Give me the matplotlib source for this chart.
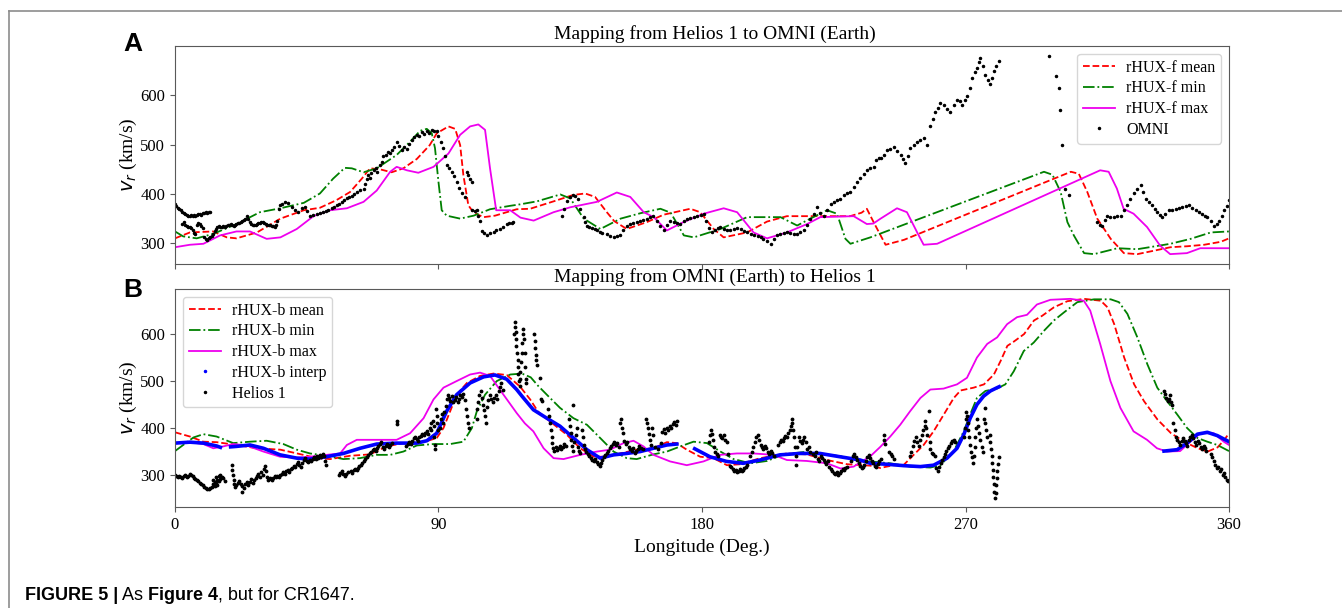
import numpy as np
import matplotlib
matplotlib.use('Agg')
import matplotlib.pyplot as plt
from matplotlib.lines import Line2D
from matplotlib.text import Annotation

plt.rcParams['font.family'] = 'Liberation Serif'

# ---- panel A: Helios 1 -> OMNI (lon, v_r) ----
mean_f = [(0,310),(5.1,322),(13,324),(17.7,312),(21,310),(28,322),(36,350),(44,367),(49.5,372),(55,387),
          (59.8,404),(63.8,431),(66.6,452),(70,450),(74,444),(78,452),(82.6,471),(87,499),(89.4,523),(93.4,537),
          (95.7,532),(97.4,499),(98.5,438),(100.2,377),(102,362),(105.4,353),(109.3,356),(116.7,369),(121.3,370),
          (129.3,385),(136,398),(140.1,401),(143.5,394),(147.5,363),(150,345),(154.3,329),(161.2,343),(166.9,358),
          (176,370),(179.4,363),(184,329),(187.4,312),(195.4,322),(202.2,344),(209,355),(220.4,355),(230.6,355),
          (234.5,362),(236.3,370),(238.6,343),(241,316),(242.7,297),(249,307),(306,445),(308.7,441),(311.6,404),
          (315,350),(319.6,309),(324.1,280),(328.7,278),(334.4,285),(340,292),(345.8,294),(351.5,297),(357.2,303),
          (360,310)]
min_f = [(0,324),(2.8,314),(7.4,310),(13,319),(21,339),(29,363),(36,371),(44,382),(49.5,401),(54,431),(58,453),
         (60.4,452),(64.4,444),(68.9,452),(75.7,479),(80.3,506),(83.7,528),(86,532),(87.7,523),(88.8,493),(90,424),
         (91.1,367),(92.8,356),(97.4,350),(102,356),(107.6,369),(114.5,376),(117.9,379),(123.6,385),(131.6,399),
         (135,391),(139.6,350),(145.3,329),(152.2,350),(159,361),(165.8,370),(169.3,362),(173.8,316),(177.2,312),
         (186.3,329),(195.4,353),(206.8,353),(212.5,336),(217,350),(222.7,367),(226.1,360),(229,309),(230.7,299),
         (237.5,312),(296.8,445),(299.7,439),(302.5,404),(304.8,343),(307,316),(310.5,280),(313.9,278),(321.9,290),
         (328.7,288),(340,299),(346.9,309),(353.8,322),(360,324)]
max_f = [(0,292),(5.1,297),(9.7,299),(15.4,316),(21,324),(25.6,324),(31.3,309),(36,312),(41.6,329),(47.3,355),
         (53,367),(58.7,371),(64.4,384),(68.9,407),(73.5,445),(75.7,455),(79.2,448),(83.1,443),(88.3,455),
         (93.4,482),(97.4,520),(100.8,537),(103.6,541),(105.9,530),(107.6,452),(109.7,367),(114.5,367),(118,352),
         (122.5,346),(129.3,363),(135,373),(144.1,384),(150.9,403),(155.5,394),(160.1,363),(163.5,353),(168,326),
         (173.7,343),(180.6,360),(187.4,371),(192,363),(197.6,322),(202.2,310),(209,322),(215.9,339),(220.4,353),
         (231.8,355),(236.3,339),(238.5,340),(241,350),(246.6,371),(250,363),(253.5,322),(255.7,297),(260.3,299),
         (316,448),(318.9,445),(321.7,411),(324,370),(327.4,360),(332,333),(336.5,295),(339.9,278),(345.6,280),
         (350.2,290),(360,290)]
omni = [(0,380),(0.5,376),(1,372),(1.5,369),(2,367),(2.5,364),(3,362),(3.5,360),(4,357),(4.5,356),(5,355),
        (5.5,357),(6,355),(6.5,358),(7,356),(7.5,358),(8,359),(8.5,360),(9,358),(9.5,361),(10,362),(10.5,363),
        (11,362),(11.5,364),(12,363),
        (2.5,340),(3,343),(3.5,338),(4,336),(4.5,334),(5,333),(5.5,330),(6,326),(6.5,320),(7,318),(7.5,338),
        (8,342),(8.5,340),(9,336),(9.5,332),(10,312),(10.5,309),(11,307),(11.5,310),(12,312),(12.5,315),(13,318),
        (13.5,325),(14,329),(14.5,333),(15,336),(15.5,334),(16,333),(16.5,335),(17,333),(17.5,336),(18,337),
        (18.5,338),(19,339),(19.5,337),(20,336),(20.5,338),(21,339),(21.5,341),(22,342),(22.5,344),(23,346),
        (23.5,348),(24,350),(24.5,356),(25,350),(25.5,344),(26,340),(26.5,338),(27,338),(27.5,337),(28,339),
        (28.5,341),(29,342),(29.5,344),(30,343),(30.5,341),(31,340),(31.5,338),(32,338),(32.5,337),(33,336),
        (33.5,335),(34,334),(34.5,338),(35,345),(35.5,370),(35.9,377),(36.7,380),(37.6,383),(38.7,381),(39.9,374),
        (41,367),(42.1,364),(43.3,371),(44.4,374),(45.2,365),(46.1,356),(47.2,358),(48.4,360),(49.5,362),
        (50.7,363),(51.6,365),(52.4,367),(53.6,371),(54.4,374),(55.2,377),(56,380),(56.9,384),(57.8,388),
        (58.7,391),(59.5,393),(60.4,396),(61.2,400),(62.1,404),(63.2,408),(64.4,411),(65,420),(65.5,430),(66,438),
        (66.5,433),(67,442),(67.8,448),(68.5,452),(69,445),(70,458),(70.6,465),(71.2,476),(72,480),(72.9,486),
        (73.5,484),(74,489),(74.8,495),(75.7,506),(76.5,498),(77.4,489),(78.2,495),(79.2,492),(80,502),(80.9,510),
        (81.8,515),(82.6,520),(83.4,518),(84.3,525),(85,522),(86,527),(86.8,524),(87.7,530),(88.5,528),(89.4,527),
        (90,518),(90.8,505),(91.6,493),(92.2,478),(92.8,459),(93.6,452),(94.5,445),(95.3,436),(96.2,424),(97,412),
        (98,401),(99,394),(99.7,445),(100.2,438),(100.8,430),(101.4,424),(101.6,367),(102.3,365),(103,367),
        (103.6,356),(104.2,346),(104.8,324),(105.5,320),(106.5,317),(107.5,320),(108.8,322),(109.8,326),(111,329),
        (112,333),(113.3,339),(114.2,342),(115,341),(115.6,344),
        (132.1,356),(133,370),(134,385),(135,394),(135.8,398),(136.7,396),(137.5,390),(138.5,370),(139.6,353),
        (140.2,344),(140.7,336),(141.5,334),(142.5,330),(143.3,328),(144.1,326),(145,322),(146,320),(147.5,319),
        (148.5,315),(149.8,312),(150.8,315),(152,317),(153,326),(154.3,336),(155.5,340),(156.5,341),(157.7,343),
        (158.8,346),(160,348),(161.2,350),(162.3,353),(163.4,356),(164.5,345),(165.5,335),(166.9,326),(168,338),
        (169.2,346),(170.5,343),(171.5,341),(172.6,339),(173.7,346),(174.9,350),(176,352),(177.2,354),(178.3,356),
        (179.5,358),(180.6,360),(181.5,345),(182.5,330),(183.5,322),(184.5,326),(185.5,330),(186.3,333),
        (187.5,329),(188.5,327),(189.7,326),(191,328),(192,330),(193.2,329),(194.5,325),(195.5,322),(196.6,319),
        (197.8,316),(199,314),(200,312),(201,308),(202.2,304),(203.4,299),(204.5,308),(205.7,316),(206.8,318),
        (208,320),(209,322),(210.2,320),(211.3,318),(212.5,319),(213.6,322),(214.8,326),(215.9,338),(217,350),
        (218.2,360),(219.3,373),(220.4,362),(221.6,356),(222.7,368),(223.9,380),(225,384),(226.2,388),(227.3,390),
        (228.5,398),(229.5,402),(230.7,404),(231.8,414),(233,424),(234,432),(235.2,441),(236.2,448),(237.5,452),
        (238.7,455),(239.5,468),(240.4,472),(241,472),(242.2,480),(243.2,489),(244.3,492),(245.5,496),(246.6,488),
        (247.8,479),(248.7,470),(249.5,462),(250.3,478),(251.2,493),(252.3,500),(253.5,506),(254.6,510),
        (255.7,513),(256.9,499),(258,537),(258.8,552),(259.6,567),(260.5,575),(261.4,584),(262.5,580),(263.6,572),
        (264.8,567),(266,580),(267.1,591),(268,588),(268.8,581),(269.7,590),(270.5,598),(271.4,615),(272.3,635),
        (273.1,648),(274,656),(274.5,668),(275.1,676),(276,660),(276.8,642),(277.6,632),(278.5,622),(279,636),
        (279.6,649),(280.4,660),(281.3,669),
        (298.4,680),(301,639),(301.8,615),(302.4,571),(302.8,499),(304.1,411),(305.3,397),
        (315,343),(315.8,338),(316.7,336),(317.5,348),(318.4,356),(319.5,354),(320.7,353),(321.8,355),(323,356),
        (324,368),(325.2,377),(326.3,390),(327.5,401),(328.7,410),(329.8,418),(330.6,405),(331.5,390),(332.6,384),
        (333.8,377),(334.6,370),(335.5,363),(336.4,358),(337.2,353),(338.3,360),(339.5,367),(340.6,368),
        (341.8,370),(343,372),(344,373),(345.2,375),(346.3,377),(347.5,372),(348.6,367),(349.7,364),(350.9,360),
        (351.8,356),(352.6,353),(353.8,345),(354.9,336),(355.8,340),(356.6,346),(357.5,356),(358.3,367),
        (359.2,376),(360,387)]

# ---- panel B: OMNI -> Helios 1 ----
mean_b = [(0,391),(5.1,382),(9.7,371),(14.2,370),(21,364),(28,357),(36,354),(43.8,343),(48.4,336),(53,334),
          (59.8,341),(66.6,344),(72.3,361),(78,368),(84.9,370),(89.4,379),(91.7,400),(94,436),(96.2,471),
          (99.7,496),(104.2,511),(108.8,516),(113.3,513),(117.9,488),(121.3,461),(124,435),(128.1,414),(133.8,386),
          (138.4,357),(143,339),(147.5,339),(152,346),(157.7,354),(163.4,357),(168,370),(171.3,368),(174.8,354),
          (179.4,339),(183.9,336),(188.5,321),(193,323),(199.9,336),(209,346),(215.8,344),(222.7,332),(229.6,323),
          (237.5,320),(240.9,315),(245.4,321),(248.8,321),(252.3,343),(255.7,364),(259.1,393),(262.6,429),
          (266,464),(268.3,480),(272.8,486),(276.3,493),(279.7,514),(282,543),(284.3,575),(286.5,584),(290,600),
          (293.4,629),(296.2,639),(300.2,657),(304.8,670),(310.5,675),(316.2,671),(318.5,657),(320.8,621),
          (324.2,550),(327.6,493),(331,457),(335.6,418),(340.2,389),(344.7,371),(349.3,357),(352.7,350),
          (356.1,359),(358.4,375),(360,389)]
min_b = [(0,351),(2.8,364),(6.3,380),(9.7,387),(14.2,382),(19.9,368),(25.6,371),(31.3,373),(37,366),(41.6,354),
         (46.1,346),(51.8,341),(57.5,334),(63.2,336),(68.9,343),(73.5,343),(78,350),(82.6,363),(88.3,366),(94,366),
         (98.5,371),(101.4,400),(103.1,436),(105.9,471),(109.9,500),(114.5,514),(118.5,516),(121.5,508),(124,490),
         (127,471),(131.5,443),(136.1,421),(140.7,407),(145.2,379),(149.8,350),(154.3,336),(157.7,334),(163.4,344),
         (168,350),(172.6,361),(177.1,371),(181.7,368),(186.3,350),(190.8,334),(196.5,325),(202.2,330),(207.9,344),
         (214.7,349),(222.7,344),(228.4,339),(234.1,332),(237.5,329),(244.3,325),(251.1,318),(258,316),(261.4,321),
         (265.9,350),(269.4,393),(271.6,429),(273.9,464),(276.8,479),(280.7,484),(283.6,493),(286.5,521),
         (289.9,564),(293.3,582),(296.8,607),(300.2,629),(303.6,646),(308.2,668),(313.9,674),(319.6,674),
         (322.4,668),(325.3,643),(328.7,593),(332.1,536),(335.5,486),(338.9,457),(342.3,429),(345.7,400),
         (349.2,379),(352.6,371),(356,364),(360,351)]
max_b = [(0,368),(5.1,370),(9.7,366),(13.1,357),(16.5,361),(19.9,366),(24.5,363),(30.2,350),(35.9,339),(41.6,337),
         (46.1,339),(51.8,343),(56.4,346),(58.7,364),(62.1,375),(68.9,375),(75.7,375),(80.3,389),(84.9,421),
         (88.3,461),(91.7,486),(96.2,500),(100.8,514),(104.2,518),(107.6,511),(112.2,471),(116.7,432),(119.5,410),
         (122.4,393),(125.9,357),(129.3,336),(132.7,334),(138.4,343),(144.1,350),(148.6,354),(153.2,368),
         (156.6,373),(160,361),(163.4,343),(169.1,329),(174.8,321),(180.5,329),(186.2,343),(191.9,346),(197.6,346),
         (204.4,343),(209,332),(215.8,330),(222.7,325),(227.3,314),(231.8,318),(237.5,340),(240.9,360),(244.3,382),
         (247.7,407),(251.1,436),(254.6,464),(258,482),(262.5,484),(267.1,493),(270.5,507),(273.9,550),(277.4,579),
         (280.8,593),(284.2,621),(287.6,636),(291,641),(294.4,663),(299,673),(305.8,675),(310.4,671),(312.6,650),
         (316,579),(319.5,500),(322.9,443),(327.4,393),(332,375),(335.4,357),(338.8,350),(343.3,351),(346.8,371),
         (350.2,389),(354.8,389),(358.2,371),(360,364)]
interp_b = [
    [(0,368),(5.1,370),(9.7,368),(14.2,362),(15.5,359)],
    [(19,360),(21,361),(25.6,364),(30.2,357),(35.9,343),(41.6,336),(46.1,334),(51.8,339),(57.5,346),(63.2,357),
     (68.9,366),(75.7,368),(82.6,368),(86,373),(89.4,389),(92.8,436),(96.2,471),(100.8,496),(105.4,509),
     (109.3,513),(113.3,504),(116.7,482),(118.5,468),(122.4,439),(127,421),(131.5,404),(136.1,379),(140.7,354),
     (145.2,336),(149.8,343),(154.3,346),(158.9,350),(163.4,357),(168,364),(171.4,366)],
    [(177.5,356),(182.7,339),(188.4,329),(194.1,325),(199.8,332),(206.6,343),(213.5,346),(220.3,346),(227.1,339),
     (234,332),(237.5,325),(243.2,323),(248.9,320),(254.6,318),(259.1,321),(263.7,336),(267.1,357),(269.4,386),
     (271.6,421),(273.9,450),(276.2,468),(278.5,479),(280.8,486),(281.5,488)],
    [(337.8,351),(342.3,354),(345.7,368),(349.2,387),(352.6,391),(356,384),(360,371)],
]
helios = [(0,300),(0.5,297),(1,295),(1.5,298),(2,296),(2.5,293),(3,297),(3.5,300),(4,296),(4.5,298),(5,302),
          (5.5,300),(6,297),(6.5,294),(7,292),(7.5,290),(8,287),(8.5,284),(9,281),(9.5,278),(10,275),(10.5,272),
          (11,270),(11.5,271),(12,273),(12.5,275),(13,280),(13,290),(13.5,285),(13.5,276),(14,295),(14,283),
          (14.5,290),(14.5,278),(15,297),(15,287),(15.5,300),(15.5,291),(16,296),(16.5,293),(17,288),
          (19.5,322),(19.6,310),(19.8,300),(20,290),(20.3,280),(20.6,274),(21,278),(21.5,284),(22,288),(22.5,281),
          (22.8,263),(23,276),(23.5,272),(24,280),(24.5,285),(25,279),(25.5,286),(26,291),(26.5,284),(27,289),
          (27.5,294),(28,299),(28.5,303),(29,296),(29.5,306),(30,300),(30.5,312),(30.8,320),(31,308),(31.3,296),
          (31.6,290),(32,291),(32.5,294),(33,290),(33.5,293),(34,297),(34.5,295),(35,299),(35.5,296),(36,300),
          (36.5,303),(37,306),(37.5,302),(38,308),(38.5,311),(39,307),(39.5,313),(40,316),(40.5,320),(41,318),
          (41.5,324),(42,328),(42.5,322),(43,318),(43.5,326),(44,332),(44.5,336),(45,330),(45.5,327),(46,333),
          (46.5,329),(47,335),(47.5,338),(48,334),(48.5,340),(49,336),(49.5,342),(50,338),(50.5,344),(51,340),
          (51.3,330),(51.5,322),
          (56,300),(56.5,304),(57,308),(57.5,303),(58,298),(58.5,302),(59,306),(60,308),(60.5,305),(61,310),
          (61.5,313),(62,311),(62.5,316),(63,319),(63.5,322),(64,326),(64.5,330),(65,334),(65.5,338),(66,343),
          (66.5,347),(67,350),(67.5,353),(68,356),(68.5,352),(69,358),(69.5,362),(70,366),(70.5,370),(71,360),
          (71.5,356),(72,362),(72.5,366),(73,360),(73.5,365),(74,368),(75.7,414),(75.9,408),
          (79,362),(79.5,366),(80,370),(80.5,366),(81,373),(81.5,378),(82,382),(82.5,376),(83,372),(83.5,380),
          (84,384),(84.5,388),(85,385),(85.5,390),(86,393),(86.5,388),(87,400),(87.3,410),(87.6,395),(88,415),
          (88.3,405),(88.5,380),(88.7,365),(88.9,355),(89.2,440),(89.4,425),(89.6,410),(90,395),(90.5,400),
          (91,420),(91.3,430),(91.6,410),(92,435),(92.4,448),(92.8,462),(93.2,470),(93.6,465),(94,458),(94.5,468),
          (95,455),(95.5,460),(96,466),(96.5,455),(97,462),(97.5,470),(98,466),(98.5,472),(99,460),(99.5,440),
          (99.8,425),(100.1,410),(100.4,400),
          (103,420),(103.3,440),(103.6,455),(104,470),(104.4,478),(104.8,465),(105.2,450),(105.6,438),(106,425),
          (106.3,410),(106.6,445),(107,460),(107.5,470),(108,462),(108.5,455),(109,465),(109.5,470),(110,462),
          (110.5,478),(111,488),(111.5,495),(112,482),
          (115.8,600),(116,625),(116.2,615),(116.4,605),(116.5,590),(116.6,575),(116.8,560),(117,545),(117.1,530),
          (117.3,515),(117.5,500),(117.7,490),(117.9,505),(118,520),(118.2,540),(118.4,560),(118.6,580),
          (118.8,600),(119,610),(119.2,590),(119.4,560),(119.6,530),(119.8,505),(120,495),
          (122.6,600),(122.8,585),(123,570),(123.2,555),(123.4,545),(123.6,535),(124.7,507),(124.9,462),(125.2,458),
          (127.5,440),(127.8,425),(128,410),(128.3,395),(128.6,380),(128.9,368),(129.2,358),(129.5,352),(130,360),
          (130.5,354),(131,358),(131.5,362),(132,356),(132.5,360),(133,366),(133.5,362),
          (134.5,420),(134.8,405),(135.1,390),(135.4,375),(135.7,362),(136,352),(136.1,450),(136.4,370),
          (136.8,385),(137.2,400),(137.6,360),(138,352),(138.5,348),(139,395),(139.3,380),(139.6,365),(140,355),
          (140.4,350),
          (141,345),(141.5,340),(142,336),(142.5,333),(143,330),(143.5,334),(144,328),(144.5,324),(145,320),
          (145.5,326),(146,332),(146.5,338),(147,342),(147.5,346),(148,352),(148.5,357),(149,362),(149.5,366),
          (150,370),(150.5,364),(151,368),(151.5,360),(152,410),(152.3,420),(152.6,400),(152.9,390),
          (153.5,372),(154,366),(154.5,370),(155,360),(155.5,355),(156,352),(156.5,358),(157,348),(157.5,352),
          (158,356),(158.5,362),(159,358),(160,355),(161,420),(161.3,410),(161.6,400),(161.9,388),(162.2,375),
          (162.5,365),(163,400),(163.3,385),(164,360),(165,355),(166,368),(166.5,392),(167,398),(167.5,390),
          (168,400),(168.5,395),(169,405),(169.5,400),(170,408),(170.5,412),(171,406),(171.3,415),
          (182.5,370),(182.8,385),(183,395),(183.3,388),(183.6,375),(184,360),(184.5,350),(185,345),(185.5,340),
          (186,386),(186.5,382),(187,378),(187.5,385),(188,375),(188.5,370),(189,345),(189.5,320),(190,318),
          (190.5,312),(191,308),(191.5,310),(192,306),(192.5,309),(193,312),(193.5,308),(194,310),(194.5,315),
          (195,318),(195.5,322),
          (196.5,340),(197,350),(197.5,360),(198,370),(198.5,380),(199,385),(199.5,375),(200,365),(200.5,360),
          (201,355),(201.5,362),(202,358),(202.5,350),(203,345),(203.5,352),(204,348),(204.5,340),
          (206,365),(206.5,370),(207,375),(207.5,372),(208,378),(208.5,384),(209,380),(209.5,390),(210,395),
          (210.3,405),(210.6,420),(210.9,410),(211.2,395),(211.5,380),(211.8,360),(212,340),(212.2,322),
          (212.5,360),(213,380),(213.5,372),(214,368),(214.5,375),(215,380),(215.5,370),(216,355),(216.5,360),
          (217,350),
          (218,345),(218.5,340),(219,350),(219.5,335),(220,330),(220.5,340),(221,336),(221.5,332),(222,328),
          (222.5,324),(223,330),(223.5,318),(224,312),(224.5,308),(225,305),(225.5,302),(226,306),(226.5,300),
          (227,304),(227.5,308),(228,312),(228.5,310),(229,315),(229.5,318),
          (231,330),(231.5,340),(232,345),(232.5,338),(233,332),(233.5,326),(234,320),(234.5,315),(235,318),
          (235.5,322),(236,330),(236.5,338),(237,342),(237.5,336),(238,330),(238.5,325),(239,320),(239.5,318),
          (240,324),(240.5,330),(241,335),
          (242,385),(242.3,375),(242.6,366),(244,350),(244.5,345),(245,340),(245.5,335),
          (251,340),(251.5,350),(252,362),(252.5,372),(253,380),(253.5,370),(254,362),(254.5,375),(255,385),
          (255.5,395),(256,405),(256.3,415),(256.6,400),(257,385),(257.5,436),(257.8,370),(258,355),(258.5,348),
          (259,345),(259.5,340),
          (260,315),(260.5,308),(261,318),(261.5,325),(262,332),(262.5,338),(263,345),(263.5,352),(264,358),
          (264.5,362),(265,368),(265.5,372),(266,375),(266.5,370),
          (269.5,380),(269.8,400),(270,420),(270.2,435),(270.5,425),(270.8,410),(271,395),(271.3,380),(271.6,365),
          (271.9,350),(272.2,338),(272.5,325),(272.8,340),(273.1,360),(273.4,380),(273.7,400),(274,420),
          (274.3,405),(274.6,390),(275,375),(275.5,360),(276,350),(276.3,420),(276.5,443),(276.7,410),(277,395),
          (277.3,380),
          (278.3,386),(278.5,370),(278.7,355),(278.9,340),(279.1,325),(279.3,310),(279.5,295),(279.7,280),
          (279.9,265),(280.1,252),(280.3,262),(280.5,278),(280.7,293),(280.9,308),(281.1,323),(281.3,338),
          (337.8,478),(338.2,472),(338.6,465),(339,458),(339.4,462),(339.8,470),(340.1,455),(340.4,450),
          (341,410),(341.4,395),(341.8,382),(342.3,375),(342.8,370),(343.3,365),(343.8,372),(344.3,378),
          (344.8,372),(345.3,368),(345.8,362),(346.3,375),(346.8,380),(347.3,385),(347.8,378),(348.3,370),
          (348.8,365),(349.3,372),(349.8,368),(350.3,360),(350.8,355),(351.3,362),(351.8,358),(352.3,352),
          (353.8,345),(354.3,338),(354.8,330),(355.3,322),(355.8,315),(356.3,318),(356.8,308),(357.3,312),
          (357.8,300),(358.3,305),(358.8,296),(359.3,290),(359.8,287)]

lon_ticks = [0, 90, 180, 270, 360]
v_ticks = [300, 400, 500, 600]


def xy(pts):
    a = np.array(pts, dtype=float)
    return a[:, 0], a[:, 1]


fig = plt.figure(figsize=(13.42, 6.08), dpi=100)
axA = fig.add_axes([0.1304, 0.5658, 0.7854, 0.3585])
axB = fig.add_axes([0.1304, 0.1661, 0.7854, 0.3586])

lw = 1.3
mag = '#ee00ee'
leg_kw = dict(fontsize=11.5, labelspacing=0.3, borderpad=0.35, handletextpad=0.7)

axA.plot(*xy(mean_f), 'r--', lw=lw, label='rHUX-f mean')
axA.plot(*xy(min_f), 'g-.', lw=lw, label='rHUX-f min')
axA.plot(*xy(max_f), '-', color=mag, lw=lw, label='rHUX-f max')
axA.plot(*xy(omni), 'k.', ms=3, ls='none', label='OMNI')
axA.set_ylim(258, 700)
axA.set_xticklabels([])
axA.set_title('Mapping from Helios 1 to OMNI (Earth)', fontsize=14, x=0.512, pad=5)
axA.legend(loc='upper right', **leg_kw)

axB.plot(*xy(mean_b), 'r--', lw=lw)
axB.plot(*xy(min_b), 'g-.', lw=lw)
axB.plot(*xy(max_b), '-', color=mag, lw=lw)
for seg in interp_b:
    axB.plot(*xy(seg), color='blue', lw=2.6)
axB.plot(*xy(helios), 'k.', ms=3.5, ls='none')
axB.set_ylim(232, 696)
axB.set_xlabel('Longitude (Deg.)', fontsize=14)
axB.set_title('Mapping from OMNI (Earth) to Helios 1', fontsize=14, x=0.512, pad=5)
handles = [Line2D([], [], color='r', ls='--', lw=lw),
           Line2D([], [], color='g', ls='-.', lw=lw),
           Line2D([], [], color=mag, ls='-', lw=lw),
           Line2D([], [], color='blue', marker='.', ls='none', ms=3),
           Line2D([], [], color='k', marker='.', ls='none', ms=3)]
axB.legend(handles, ['rHUX-b mean', 'rHUX-b min', 'rHUX-b max', 'rHUX-b interp', 'Helios 1'],
           loc='upper left', **leg_kw)

for ax in (axA, axB):
    ax.set_xlim(0, 360)
    ax.set_xticks(lon_ticks)
    ax.set_yticks(v_ticks)
    ax.tick_params(labelsize=12, color='0.35')
    ax.set_ylabel(r'$v_r$ (km/s)', fontsize=14, labelpad=1)
    for s in ax.spines.values():
        s.set_color('0.35')

# panel letters and journal frame/caption
fig.text(123 / 1342, 1 - 51 / 608, 'A', family='Liberation Sans', weight='bold', fontsize=19)
fig.text(123 / 1342, 1 - 297 / 608, 'B', family='Liberation Sans', weight='bold', fontsize=19)
fig.add_artist(Line2D([9 / 1342, 1], [1 - 11 / 608] * 2, transform=fig.transFigure, color='0.55', lw=1.2))
fig.add_artist(Line2D([9 / 1342] * 2, [0, 1 - 11 / 608], transform=fig.transFigure, color='0.55', lw=1.2))

pieces = [('FIGURE 5 |', 'bold'), (' As', 'normal'), (' Figure 4', 'bold'), (', but for CR1647.', 'normal')]
prev = fig.text(25 / 1342, 1 - 600 / 608, pieces[0][0], family='Liberation Sans', weight='bold', fontsize=13)
for txt, wt in pieces[1:]:
    ann = Annotation(txt, xy=(1, 0), xycoords=prev, va='bottom', ha='left',
                     family='Liberation Sans', weight=wt, fontsize=13)
    fig.add_artist(ann)
    prev = ann

fig.savefig('out.png', dpi=100)
